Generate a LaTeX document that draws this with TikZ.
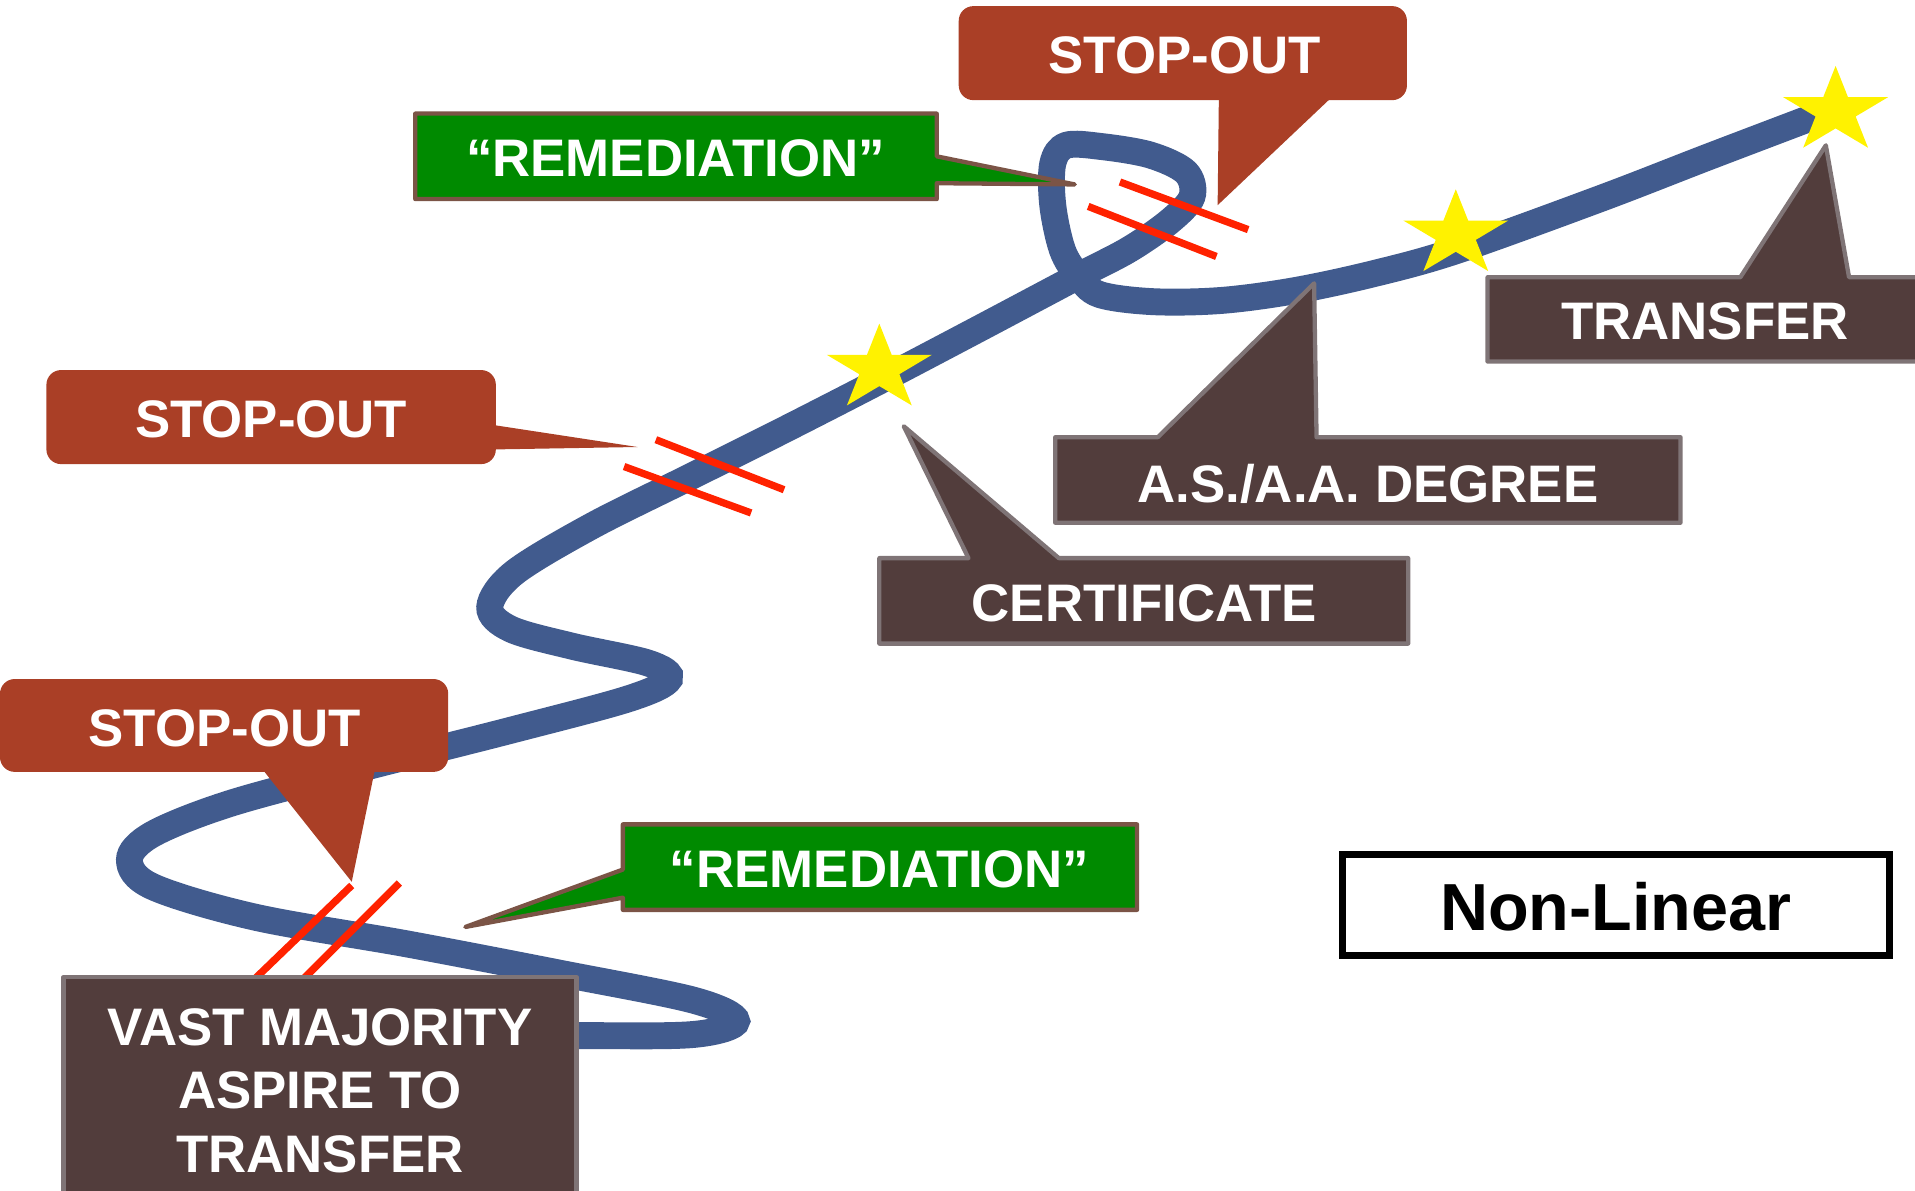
\documentclass[tikz,border=0pt]{standalone}
\usepackage{fontspec}
\setmainfont{Liberation Sans}
\usetikzlibrary{shapes.geometric}
\definecolor{rust}{HTML}{AA3F26}
\definecolor{leaf}{HTML}{008A00}
\definecolor{bark}{HTML}{7B5446}
\definecolor{cocoa}{HTML}{523D3C}
\definecolor{ash}{HTML}{7F7476}
\definecolor{road}{HTML}{415B8E}
\definecolor{cut}{HTML}{FF2200}

\begin{document}
\begin{tikzpicture}[x=0.01cm, y=-0.01cm,
    every node/.style={font=\fontsize{12.3}{14.8}\selectfont\bfseries, text=white, inner sep=0pt},
    stopbox/.style={fill=rust, rounded corners=0.12cm},
    remedbox/.style={fill=leaf, draw=bark, line width=1pt, line join=round},
    goalbox/.style={fill=cocoa, draw=ash, line width=1pt, line join=round},
    route/.style={draw=road, line width=0.22cm, line cap=round},
    cutmark/.style={draw=cut, line width=1.7pt},
    goldstar/.style={star, star points=5, star point ratio=2.618, fill=yellow, minimum size=0.74cm, xscale=1.22}]
  \useasboundingbox (0,0) rectangle (1568,975);

  % the winding road
  \draw[route] plot[smooth, tension=0.55] coordinates {(330,848) (472,848) (568,847) (603,836) (568,819) (459,797) (334,773) (209,751) (125,726) (106,704) (125,683) (188,658) (292,630) (418,598) (515,572) (548,556) (531,543) (468,529) (418,515) (401,497) (421,469) (484,431) (562,392) (640,353) (720,312) (800,270) (883,226) (925,204) (958,181) (976,161) (971,141) (942,127) (902,120) (873,119) (862,134) (862,168) (870,205) (883,226) (900,241) (944,247) (1000,246) (1060,238) (1125,224) (1193,205) (1312,162) (1400,128) (1500,90)};

  % breaks
  \draw[cutmark] (917,149) -- (1022,188);
  \draw[cutmark] (891,169) -- (996,210);
  \draw[cutmark] (537,360) -- (642,401);
  \draw[cutmark] (511,382) -- (615,420);
  \draw[cutmark] (288,725) -- (205,805);
  \draw[cutmark] (327,723) -- (245,805);

  % stop-outs
  \fill[stopbox] (785,5) rectangle (1152,82);
  \fill[rust] (998,80) -- (997,168) -- (1090,80) -- cycle;
  \node (topstop) at (970,45) {STOP-OUT};
  \fill[stopbox] (38,303) rectangle (406,380);
  \fill[rust] (404,348) -- (522,366) -- (404,368) -- cycle;
  \node (midstop) at (222,343) {STOP-OUT};
  \fill[stopbox] (0,556) rectangle (367,632);
  \fill[rust] (215,630) -- (288,722) -- (307,630) -- cycle;
  \node (lowstop) at (184,596) {STOP-OUT};

  % remediation
  \draw[remedbox] (340,93) -- (767,93) -- (767,128) -- (880,151) -- (767,150) -- (767,163) -- (340,163) -- cycle;
  \node (topremed) at (553,130) {“REMEDIATION”};
  \draw[remedbox] (510,675) -- (931,675) -- (931,745) -- (510,745) -- (510,735) -- (381,759) -- (510,712) -- cycle;
  \node (lowremed) at (720,712) {“REMEDIATION”};

  % goals
  \draw[goalbox] (720,457) -- (793,457) -- (740,349) -- (867,457) -- (1153,457) -- (1153,527) -- (720,527) -- cycle;
  \node (cert) at (937,494) {CERTIFICATE};
  \draw[goalbox] (864,358) -- (948,358) -- (1076,232) -- (1078,358) -- (1376,358) -- (1376,428) -- (864,428) -- cycle;
  \node (degree) at (1120,396) {A.S./A.A. DEGREE};
  \draw[goalbox] (1218,227) -- (1425,227) -- (1495,119) -- (1514,227) -- (1580,227) -- (1580,296) -- (1218,296) -- cycle;
  \node (transfer) at (1396,263) {TRANSFER};
  \draw[goalbox] (52,800) rectangle (472,990);
  \node[align=center] (majority) at (262,893) {VAST MAJORITY\\ASPIRE TO\\TRANSFER};

  \node[goldstar] (star1) at (720,302) {};
  \node[goldstar] (star2) at (1192,192) {};
  \node[goldstar] (star3) at (1503,91) {};

  \draw[line width=1.6pt] (1099,700) rectangle (1547,782);
  \node[text=black, font=\fontsize{15.5}{18}\selectfont\bfseries] (nonlinear) at (1323,742) {Non-Linear};
\end{tikzpicture}
\end{document}
